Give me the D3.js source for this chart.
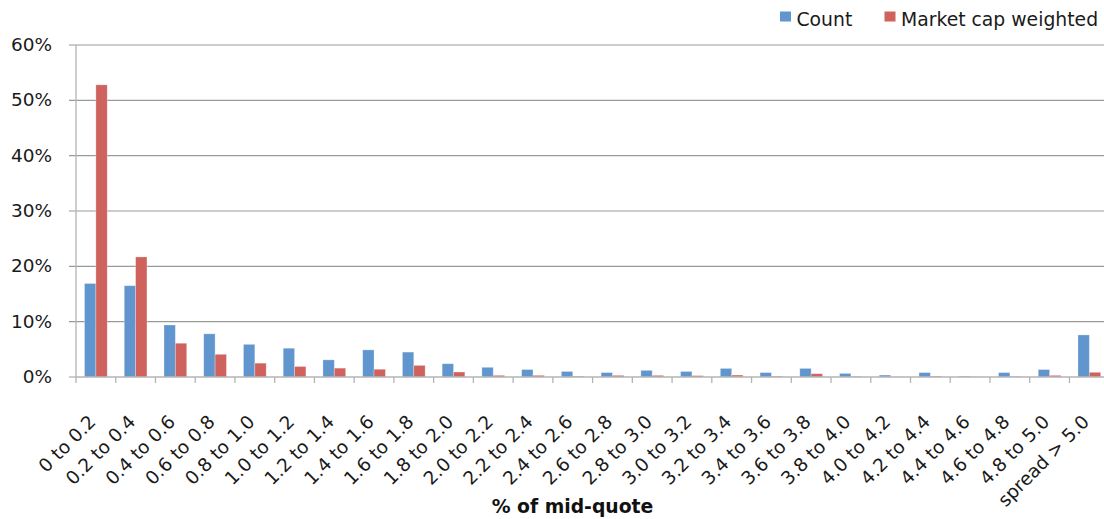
<!DOCTYPE html>
<html>
<head>
<meta charset="utf-8">
<script src="https://cdn.jsdelivr.net/npm/d3@7"></script>
<style>
  html, body { margin: 0; padding: 0; background: #fff; }
  svg { display: block; font-family: "DejaVu Sans", sans-serif; }
</style>
</head>
<body>
<svg id="chart" width="1104" height="519"></svg>
<script>
// Spread buckets, as % of mid-quote
const categories = [
  "0 to 0.2", "0.2 to 0.4", "0.4 to 0.6", "0.6 to 0.8", "0.8 to 1.0",
  "1.0 to 1.2", "1.2 to 1.4", "1.4 to 1.6", "1.6 to 1.8", "1.8 to 2.0",
  "2.0 to 2.2", "2.2 to 2.4", "2.4 to 2.6", "2.6 to 2.8", "2.8 to 3.0",
  "3.0 to 3.2", "3.2 to 3.4", "3.4 to 3.6", "3.6 to 3.8", "3.8 to 4.0",
  "4.0 to 4.2", "4.2 to 4.4", "4.4 to 4.6", "4.6 to 4.8", "4.8 to 5.0",
  "spread > 5.0"
];

// Share of stocks in each bucket (%)
const countValues = [
  16.9, 16.5, 9.4, 7.8, 5.9, 5.2, 3.1, 4.9, 4.5, 2.4,
  1.75, 1.35, 1.0, 0.8, 1.2, 1.0, 1.55, 0.8, 1.55, 0.65,
  0.35, 0.8, 0.15, 0.8, 1.35, 7.6
];

// Share of market capitalisation in each bucket (%)
const mcapValues = [
  52.8, 21.7, 6.1, 4.1, 2.5, 1.9, 1.6, 1.4, 2.1, 0.9,
  0.3, 0.3, 0.15, 0.3, 0.3, 0.25, 0.35, 0.15, 0.6, 0.1,
  0.03, 0.15, 0.03, 0.1, 0.3, 0.85
];

const seriesNames = ["Count", "Market cap weighted"];
const seriesColors = ["#6096cd", "#d0625e"];
const yTicks = [0, 10, 20, 30, 40, 50, 60];
const xTitle = "% of mid-quote";

const rows = categories.map((c, i) => ({ cat: c, vals: [countValues[i], mcapValues[i]] }));

const svg = d3.select("#chart");
const plotLeft = 76, plotRight = 1109.2, plotTop = 45, plotBottom = 377;

const x = d3.scaleBand().domain(categories).range([plotLeft, plotRight]).paddingInner(0).paddingOuter(0);
const xs = d3.scaleBand().domain(seriesNames).range([0, x.bandwidth()]).paddingInner(0).paddingOuter(0.75);
const y = d3.scaleLinear().domain([0, 60]).range([plotBottom, plotTop]);

// Horizontal gridlines with outward ticks
const grid = svg.append("g");
grid.selectAll("line").data(yTicks.filter(d => d > 0)).join("line")
  .attr("x1", plotLeft - 7).attr("x2", 1104)
  .attr("y1", d => y(d)).attr("y2", d => y(d))
  .attr("stroke", "#9a9a9a").attr("stroke-width", 1.2);

// Y axis line and labels
svg.append("line")
  .attr("x1", plotLeft).attr("x2", plotLeft).attr("y1", plotTop).attr("y2", plotBottom + 6)
  .attr("stroke", "#b4b4b4").attr("stroke-width", 1.3);
svg.append("line")
  .attr("x1", plotLeft - 7).attr("x2", plotLeft).attr("y1", y(0)).attr("y2", y(0))
  .attr("stroke", "#b4b4b4").attr("stroke-width", 1.3);

svg.append("g").selectAll("text").data(yTicks).join("text")
  .attr("x", 52).attr("y", d => y(d) + 1)
  .attr("text-anchor", "end").attr("dominant-baseline", "middle")
  .attr("font-size", 18.5).attr("fill", "#1a1a1a")
  .text(d => d + "%");

// Bars
const groups = svg.append("g").selectAll("g").data(rows).join("g")
  .attr("transform", d => `translate(${x(d.cat)},0)`);
groups.selectAll("rect").data(d => d.vals.map((v, i) => ({ v, s: seriesNames[i], i }))).join("rect")
  .attr("x", d => xs(d.s))
  .attr("width", xs.bandwidth())
  .attr("y", d => y(d.v))
  .attr("height", d => y(0) - y(d.v))
  .attr("fill", d => seriesColors[d.i])
  .attr("stroke", "rgba(255,255,255,0.35)").attr("stroke-width", 0.8);

// X axis baseline and category ticks
svg.append("line")
  .attr("x1", plotLeft).attr("x2", 1104).attr("y1", y(0)).attr("y2", y(0))
  .attr("stroke", "#b4b4b4").attr("stroke-width", 1.3);
svg.append("g").selectAll("line").data(categories).join("line")
  .attr("x1", d => x(d) + x.step())
  .attr("x2", d => x(d) + x.step())
  .attr("y1", y(0)).attr("y2", y(0) + 6)
  .attr("stroke", "#b4b4b4").attr("stroke-width", 1.3);

// Rotated category labels
svg.append("g").selectAll("text").data(categories).join("text")
  .attr("transform", d => `translate(${x(d) + x.bandwidth() / 2 + 1},423) rotate(-45)`)
  .attr("text-anchor", "end")
  .attr("font-size", 18.5).attr("fill", "#1a1a1a")
  .text(d => d);

// Axis title
svg.append("text")
  .attr("x", 572.5).attr("y", 513)
  .attr("text-anchor", "middle")
  .attr("font-size", 18.8).attr("font-weight", "bold").attr("fill", "#111")
  .text(xTitle);

// Legend
const legendX = [780, 884.5];
const legend = svg.append("g");
seriesNames.forEach((name, i) => {
  legend.append("rect")
    .attr("x", legendX[i]).attr("y", 11.5).attr("width", 11).attr("height", 10)
    .attr("fill", seriesColors[i]);
  legend.append("text")
    .attr("x", legendX[i] + 16.5).attr("y", 26)
    .attr("font-size", 18.8).attr("fill", "#1a1a1a")
    .text(name);
});
</script>
</body>
</html>
